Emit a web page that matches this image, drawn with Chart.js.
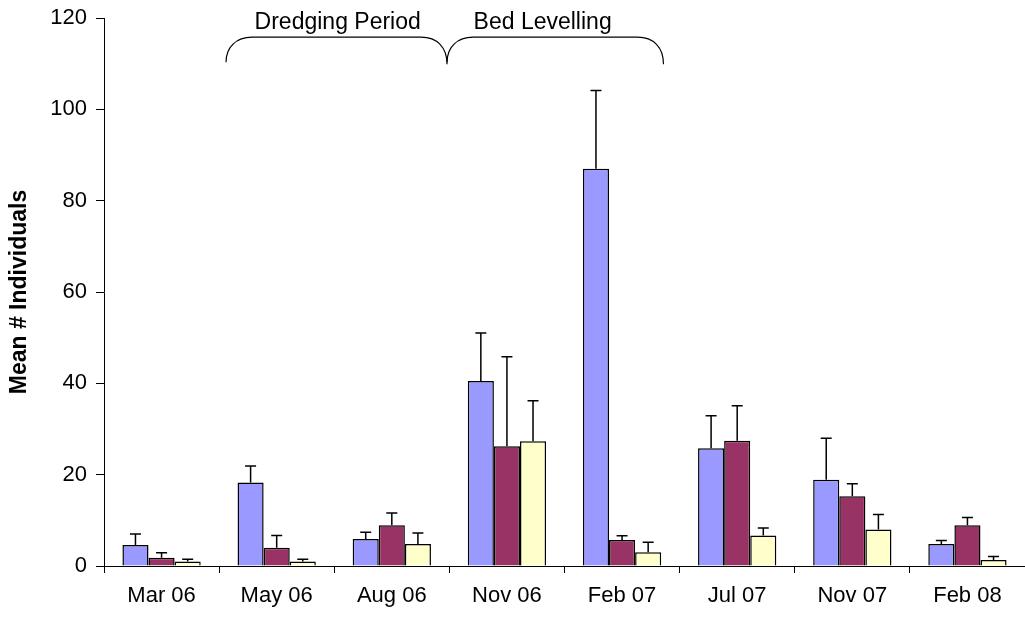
<!DOCTYPE html>
<html>
<head>
<meta charset="utf-8">
<script src="https://cdn.jsdelivr.net/npm/chart.js@4.4.1/dist/chart.umd.min.js"></script>
<style>
  html, body { margin: 0; padding: 0; background: #ffffff; }
  #wrap { width: 1025px; height: 617px; position: relative; }
</style>
</head>
<body>
<div id="wrap"><canvas id="chart"></canvas></div>
<script>
// Sampling dates
const categories = ['Mar 06', 'May 06', 'Aug 06', 'Nov 06', 'Feb 07', 'Jul 07', 'Nov 07', 'Feb 08'];

// Mean counts per series, with the upper error (SE) for each
const seriesA = [4.6, 18.3, 5.9, 40.5, 87.0, 25.8, 18.9, 4.8];
const errorsA = [2.4, 3.6, 1.5, 10.5, 17.1, 7.1, 9.1, 0.8];

const seriesB = [1.8, 4.0, 8.9, 26.2, 5.7, 27.4, 15.3, 8.9];
const errorsB = [1.1, 2.7, 2.7, 19.6, 0.9, 7.7, 2.7, 1.7];

const seriesC = [1.0, 1.0, 4.8, 27.3, 3.0, 6.7, 8.0, 1.3];
const errorsC = [0.5, 0.5, 2.4, 8.9, 2.2, 1.6, 3.3, 0.8];

// Y axis tick values
const yTicks = [0, 20, 40, 60, 80, 100, 120];

// Works periods, spanning fractional category positions
const periodNames = ['Dredging Period', 'Bed Levelling'];
const periodStart = [0.56, 2.48];
const periodEnd   = [2.48, 4.36];
const periodLabelAt = [1.53, 3.31];

const FONT = '"Liberation Sans", Arial, Helvetica, sans-serif';

// Upward-only error whiskers with caps
const errorBars = {
  id: 'errorBars',
  afterDatasetsDraw(chart) {
    const ctx = chart.ctx;
    const y = chart.scales.y;
    ctx.save();
    ctx.strokeStyle = '#000000';
    ctx.lineWidth = 1.5;
    chart.data.datasets.forEach((ds, di) => {
      const meta = chart.getDatasetMeta(di);
      meta.data.forEach((bar, i) => {
        const v = ds.data[i];
        const e = ds.errors[i];
        const x = bar.x;
        const y0 = y.getPixelForValue(v);
        const y1 = y.getPixelForValue(v + e);
        ctx.beginPath();
        ctx.moveTo(x, y0);
        ctx.lineTo(x, y1);
        ctx.moveTo(x - 5.5, y1);
        ctx.lineTo(x + 5.5, y1);
        ctx.stroke();
      });
    });
    ctx.restore();
  }
};

// Curly braces with labels above the plot
const periodBraces = {
  id: 'periodBraces',
  afterDraw(chart) {
    const ctx = chart.ctx;
    const xs = chart.scales.x;
    const ys = chart.scales.y;
    const yTop = ys.getPixelForValue(115.8);
    const yEnd = ys.getPixelForValue(110.3);
    const r = 26;
    ctx.save();
    ctx.strokeStyle = '#000000';
    ctx.lineWidth = 1.2;
    periodNames.forEach((name, k) => {
      const x0 = xs.getPixelForValue(periodStart[k]);
      const x1 = xs.getPixelForValue(periodEnd[k]);
      ctx.beginPath();
      ctx.moveTo(x0, yEnd);
      ctx.bezierCurveTo(x0, yTop + 10, x0 + 10, yTop, x0 + r, yTop);
      ctx.lineTo(x1 - r, yTop);
      ctx.bezierCurveTo(x1 - 10, yTop, x1, yTop + 10, x1, yEnd + 2);
      ctx.stroke();
      ctx.fillStyle = '#000000';
      ctx.font = '23px ' + FONT;
      ctx.textAlign = 'center';
      ctx.textBaseline = 'alphabetic';
      ctx.fillText(name, xs.getPixelForValue(periodLabelAt[k]), yTop - 8);
    });
    ctx.restore();
  }
};

const barStyle = {
  borderColor: '#000000',
  borderWidth: 1.5,
  borderSkipped: 'bottom',
  categoryPercentage: 0.68,
  barPercentage: 1.0
};

new Chart(document.getElementById('chart'), {
  type: 'bar',
  data: {
    labels: categories,
    datasets: [
      Object.assign({ label: 'Series 1', data: seriesA, errors: errorsA, backgroundColor: '#9999FF' }, barStyle),
      Object.assign({ label: 'Series 2', data: seriesB, errors: errorsB, backgroundColor: '#993366' }, barStyle),
      Object.assign({ label: 'Series 3', data: seriesC, errors: errorsC, backgroundColor: '#FFFFCC' }, barStyle)
    ]
  },
  options: {
    responsive: true,
    maintainAspectRatio: false,
    animation: false,
    layout: { padding: { left: 0, right: 0, top: 18, bottom: 0 } },
    plugins: {
      legend: { display: false },
      tooltip: { enabled: false }
    },
    scales: {
      x: {
        grid: {
          display: true,
          drawOnChartArea: false,
          drawTicks: true,
          tickLength: 7,
          tickColor: '#000000',
          offset: true
        },
        border: { display: true, color: '#000000', width: 1 },
        ticks: {
          color: '#000000',
          font: { family: FONT, size: 22 },
          padding: 10,
          maxRotation: 0
        },
        afterFit(scale) {
          scale.height = 51;
          scale.paddingLeft = 0;
          scale.paddingRight = 0;
        }
      },
      y: {
        min: 0,
        max: 120,
        afterBuildTicks(scale) { scale.ticks = yTicks.map(v => ({ value: v })); },
        grid: {
          display: true,
          drawOnChartArea: false,
          drawTicks: true,
          tickLength: 8,
          tickColor: '#000000'
        },
        border: { display: true, color: '#000000', width: 1 },
        ticks: {
          color: '#000000',
          font: { family: FONT, size: 22 },
          padding: 9
        },
        title: {
          display: true,
          text: 'Mean # Individuals',
          color: '#000000',
          font: { family: FONT, size: 23, weight: 'bold' },
          padding: { top: 6, bottom: 0 }
        },
        afterFit(scale) {
          scale.width = 104;
          scale.paddingTop = 0;
          scale.paddingBottom = 0;
        }
      }
    }
  },
  plugins: [errorBars, periodBraces]
});
</script>
</body>
</html>
